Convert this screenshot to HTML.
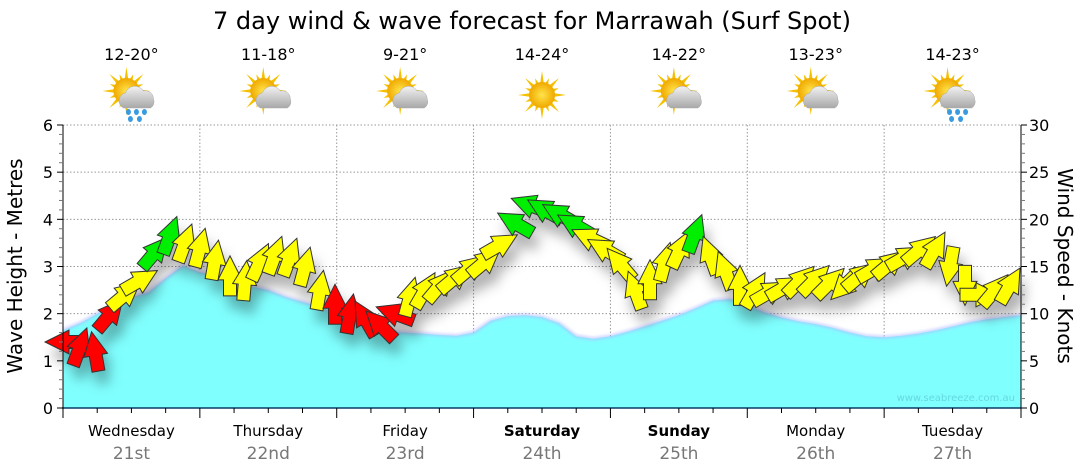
<!DOCTYPE html>
<html><head><meta charset="utf-8"><style>
body{margin:0;background:#fff;}
svg{display:block;font-family:"DejaVu Sans","Liberation Sans",sans-serif;}
</style></head><body>
<svg id="chart" width="1080" height="475" viewBox="0 0 1080 475" xmlns="http://www.w3.org/2000/svg">
<defs>
<filter id="shadow" x="-50%" y="-50%" width="200%" height="200%"><feDropShadow dx="5" dy="12" stdDeviation="6" flood-color="#000" flood-opacity="0.3"/></filter>
<filter id="glow" x="-5%" y="-20%" width="110%" height="140%"><feGaussianBlur stdDeviation="1.5"/></filter>
<radialGradient id="sun" cx="50%" cy="50%" r="50%"><stop offset="0" stop-color="#ffe44a"/><stop offset="1" stop-color="#f0a800"/></radialGradient>
<linearGradient id="cloud" x1="0" y1="0" x2="0" y2="1"><stop offset="0" stop-color="#f2f2f2"/><stop offset="1" stop-color="#a8a8a8"/></linearGradient>
</defs>
<text x="532" y="29" font-size="24" text-anchor="middle" fill="#000">7 day wind &amp; wave forecast for Marrawah (Surf Spot)</text>
<g id="grid"></g>
<g id="wave"></g>
<g id="arrows" filter="url(#shadow)"></g>
<g id="axes"></g>
<g id="header"></g>
<text x="1015" y="401" font-size="10" text-anchor="end" fill="#66d8e0">www.seabreeze.com.au</text>
<text transform="translate(22,266) rotate(-90)" font-size="20" text-anchor="middle" fill="#000">Wave Height - Metres</text>
<text transform="translate(1058,266) rotate(90)" font-size="20" text-anchor="middle" fill="#000">Wind Speed - Knots</text>
</svg>
<script>
const days = ["Wednesday","Thursday","Friday","Saturday","Sunday","Monday","Tuesday"];
const dates = ["21st","22nd","23rd","24th","25th","26th","27th"];
const boldDays = [false,false,false,true,true,false,false];
const temps = ["12-20°","11-18°","9-21°","14-24°","14-22°","13-23°","14-23°"];
const icons = ["rain","cloud","cloud","sun","cloud","cloud","rain"];
const waveTicks = [0,1,2,3,4,5,6];
const windTicks = [0,5,10,15,20,25,30];
// wave height (m), every 3 hours
const waveHeight = [1.65,1.8,2.0,2.2,2.35,2.45,2.75,3.02,2.88,2.8,2.7,2.58,2.5,2.36,2.25,2.15,2.0,1.82,1.7,1.62,1.6,1.58,1.55,1.53,1.6,1.85,1.95,1.97,1.93,1.8,1.52,1.47,1.52,1.62,1.73,1.85,1.97,2.12,2.28,2.31,2.18,2.03,1.92,1.84,1.78,1.7,1.6,1.52,1.5,1.53,1.58,1.65,1.73,1.82,1.88,1.93,1.97];
// wind speed (knots), arrow heading (deg), colour class
const windSpeed = [7,6.5,6,9.9,12,13.5,16.5,18.3,17.5,17,15.7,14,13.5,15.5,16.2,16,15,12.5,11,10,9.5,8.8,10,11.8,12.5,13,13.8,14.8,15.5,17.3,19.6,21.5,21,20.5,19.4,18,16.8,15.3,12.5,13.6,15.5,16.8,18.5,16.2,14.6,13,12.5,12.3,12.8,13.5,13.6,13.3,13,14,14.8,15.3,16,16.8,16.8,15,13,12,12.5,13];
const windDir = [270,20,350,40,50,60,40,20,20,15,10,0,5,25,20,20,15,10,0,10,330,315,290,15,30,40,50,50,50,60,300,290,300,300,300,295,300,320,340,0,15,25,20,340,340,0,30,60,60,45,45,45,225,50,60,50,60,50,30,190,180,90,40,30];
const windColor = ["r","r","r","r","y","y","g","g","y","y","y","y","y","y","y","y","y","y","r","r","r","r","r","y","y","y","y","y","y","y","g","g","g","g","g","y","y","y","y","y","y","y","g","y","y","y","y","y","y","y","y","y","y","y","y","y","y","y","y","y","y","y","y","y"];

const NS="http://www.w3.org/2000/svg";
const X0=63,X1=1021,Y0=408,Y1=125;
const dayW=(X1-X0)/7;
const yWave=v=>Y0-(v/6)*(Y0-Y1);
const yWind=v=>Y0-(v/30)*(Y0-Y1);
const xWave=i=>X0+i*(X1-X0)/(waveHeight.length-1);
const xWind=i=>65+i*(1010-65)/(windSpeed.length-1);
function mk(tag,attrs,parent){const e=document.createElementNS(NS,tag);for(const k in attrs)e.setAttribute(k,attrs[k]);parent.appendChild(e);return e;}
const grid=document.getElementById('grid'),axes=document.getElementById('axes'),waveG=document.getElementById('wave'),arrG=document.getElementById('arrows'),hdr=document.getElementById('header');

waveTicks.forEach(t=>{if(t>0){const l=mk('line',{x1:X0,x2:X1,y1:yWave(t),y2:yWave(t),stroke:'#999','stroke-dasharray':'1.5,2','stroke-width':1},grid);

}});
for(let d=1;d<7;d++){const l=mk('line',{x1:X0+d*dayW,x2:X0+d*dayW,y1:Y1,y2:Y0,stroke:'#999','stroke-dasharray':'1.5,2','stroke-width':1},grid);

}

let d=`M${X0},${Y0}`;
waveHeight.forEach((v,i)=>{d+=` L${xWave(i).toFixed(1)},${yWave(v).toFixed(1)}`;});
d+=` L${X1},${Y0} Z`;
const area=mk('path',{d:d,fill:'#80ffff'},waveG);


let ld='';waveHeight.forEach((v,i)=>{ld+=(i?' L':'M')+xWave(i).toFixed(1)+','+yWave(v).toFixed(1);});
const wl=mk('path',{d:ld,fill:'none',stroke:'#b0b8ff','stroke-width':2,filter:'url(#glow)'},waveG);



const colors={r:'#ff0000',y:'#ffff00',g:'#00ee00'};
windSpeed.forEach((s,i)=>{
  const cx=xWind(i),cy=yWind(s);
  const p=mk('polygon',{points:'-6.5,20 6.5,20 6.5,4 12,4 0,-20 -12,4 -6.5,4',fill:colors[windColor[i]],stroke:'#333','stroke-width':1,transform:`translate(${cx.toFixed(1)},${cy.toFixed(1)}) rotate(${windDir[i]})`},arrG);
  
  
});

const ax=mk('line',{x1:X0-1,x2:X1,y1:Y0,y2:Y0,stroke:'#0b3b66','stroke-width':1.5},axes);


const la=mk('line',{x1:X0,x2:X0,y1:Y1,y2:Y0,stroke:'#000','stroke-width':1},axes);


const ra=mk('line',{x1:X1,x2:X1,y1:Y1,y2:Y0,stroke:'#000','stroke-width':1},axes);


for(let k=0;k<=30;k++){const y=Y0-k*(Y0-Y1)/30;const big=k%5==0;
  const t=mk('line',{x1:X0-(big?6:4),x2:X0,y1:y,y2:y,stroke:big?'#000':'#777','stroke-width':1},axes);
  
  
  const t2=mk('line',{x1:X1,x2:X1+(big?6:4),y1:y,y2:y,stroke:big?'#000':'#777','stroke-width':1},axes);
  
  }
waveTicks.forEach(t=>{const e=mk('text',{x:X0-10,y:yWave(t)+6,'font-size':16,'text-anchor':'end',fill:'#000'},axes);e.textContent=t;

});
windTicks.forEach(t=>{const e=mk('text',{x:X1+8,y:yWind(t)+6,'font-size':16,'text-anchor':'start',fill:'#000'},axes);e.textContent=t;

});
for(let k=0;k<=28;k++){const x=X0+k*dayW/4;const big=k%4==0;
  const t=mk('line',{x1:x,x2:x,y1:Y0,y2:Y0+(big?10:5),stroke:'#000','stroke-width':1},axes);
  
  }
days.forEach((dn,i)=>{const cx=X0+(i+0.5)*dayW;
  const e=mk('text',{x:cx,y:436,'font-size':15,'text-anchor':'middle',fill:'#000','font-weight':boldDays[i]?'bold':'normal'},axes);e.textContent=dn;
  
  
  const e2=mk('text',{x:cx,y:459,'font-size':17,'text-anchor':'middle',fill:'#777'},axes);e2.textContent=dates[i];
  
  
  const e3=mk('text',{x:cx,y:60,'font-size':16,'text-anchor':'middle',fill:'#000'},hdr);e3.textContent=temps[i];
  
  
  const g=mk('g',{transform:`translate(${cx},95)`},hdr);
  
  
  const sx=icons[i]=='sun'?0:-5, sy=icons[i]=='sun'?0:-4;
  for(let r=0;r<16;r++){const a=r*Math.PI/8;mk('polygon',{points:`${sx+Math.cos(a-0.18)*11},${sy+Math.sin(a-0.18)*11} ${sx+Math.cos(a)*(r%2?18:24)},${sy+Math.sin(a)*(r%2?18:24)} ${sx+Math.cos(a+0.18)*11},${sy+Math.sin(a+0.18)*11}`,fill:'#f5c000'},g);}
  mk('circle',{cx:sx,cy:sy,r:13,fill:'url(#sun)'},g);
  if(icons[i]!='sun'){
    mk('path',{d:'M-8,13 a8,8 0 0 1 2,-15 a10,10 0 0 1 18,-2 a8,8 0 0 1 10,8 a7,7 0 0 1 -3,9 Z',fill:'url(#cloud)',stroke:'#aaa','stroke-width':0.5},g);
    if(icons[i]=='rain'){[[-3,17],[5,17],[13,17],[-1,24],[8,24]].forEach(p=>mk('ellipse',{cx:p[0],cy:p[1],rx:2.5,ry:3,fill:'#3a9be0'},g));}
  }
});
</script>
</body></html>
